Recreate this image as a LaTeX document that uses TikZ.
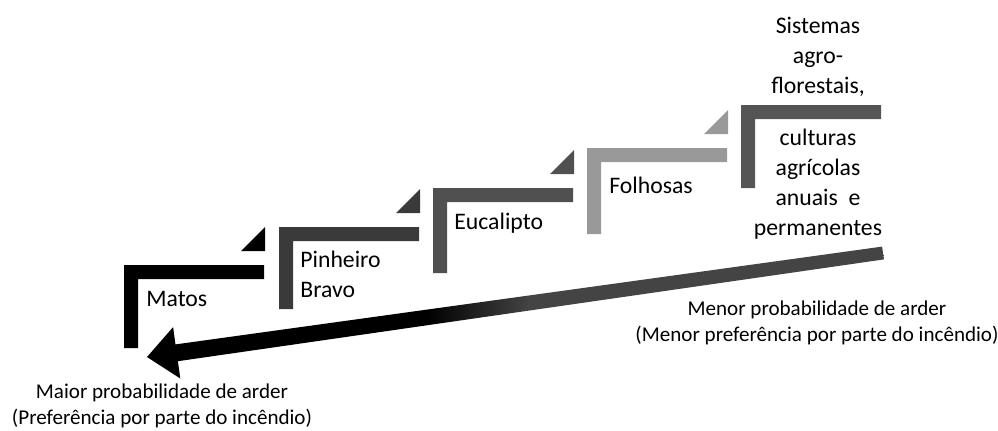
\documentclass[tikz,border=0pt]{standalone}
\usepackage{fontspec}
\setmainfont{Carlito}
\usetikzlibrary{calc}

\definecolor{arrowColour}{HTML}{444444}
\pgfdeclarehorizontalshading{arrowShading}{100bp}{color(0bp)=(black); color(44bp)=(black); color(51bp)=(arrowColour); color(100bp)=(arrowColour)}

\tikzset{
    stepLabel/.style={font=\fontsize{13.5}{17}\selectfont, inner sep=0pt},
    noteLabel/.style={font=\fontsize{12}{15}\selectfont, inner sep=0pt, align=center}
}

\begin{document}
\begin{tikzpicture}[x=0.02cm, y=-0.02cm]
    \useasboundingbox (0,0) rectangle (998,430);

    % Define bar thickness
    \def\barWidth{14}

    \definecolor{pinheiroColour}{HTML}{3A3A3A}
    \definecolor{eucaliptoColour}{HTML}{505050}
    \definecolor{folhosasColour}{HTML}{999999}
    \definecolor{sistemasColour}{HTML}{555555}

    % Draw the steps (left x / top y / bottom y / colour)
    \foreach \x/\y/\b/\col in {124/265/348/black, 279/227/309/pinheiroColour, 433/188/273/eucaliptoColour, 587/148/234/folhosasColour, 741/105/188/sistemasColour}
        \fill[\col] (\x,\b) -- (\x,\y) -- (\x+140,\y) -- (\x+140,\y+\barWidth)
            -- (\x+\barWidth,\y+\barWidth) -- (\x+\barWidth,\b) -- cycle;

    % Draw the small triangles
    \foreach \x/\y/\col in {124/265/black, 279/227/pinheiroColour, 433/188/eucaliptoColour, 587/148/folhosasColour}
        \fill[\col] (\x+141,\y-14) -- (\x+141,\y-38) -- (\x+117,\y-14) -- cycle;

    % Label the steps
    \node[stepLabel, anchor=west] (matos) at (146,299) {Matos};
    \node[stepLabel, anchor=west, align=left] (pinheiro) at (300,274) {Pinheiro\\Bravo};
    \node[stepLabel, anchor=west] (eucalipto) at (454,223) {Eucalipto};
    \node[stepLabel, anchor=west] (folhosas) at (609,185) {Folhosas};
    \node[stepLabel, align=center] (sistemas) at (818,57) {Sistemas\\agro-\\florestais,};
    \node[stepLabel, align=center] (culturas) at (818,184) {culturas\\agrícolas\\anuais~ e\\permanentes};

    % Define the ends of the arrow
    \coordinate (highEnd) at (883,253);
    \coordinate (lowTip) at (147,357);

    % Draw the tapered arrow
    \shade[shading=arrowShading] ($(highEnd)+(-0.9,-6.4)$) -- ($(lowTip)+(28.5,-12.6)$)
        -- ($(lowTip)+(26.1,-29.9)$) -- (lowTip) -- ($(lowTip)+(33.3,21.5)$)
        -- ($(lowTip)+(30.9,4.2)$) -- ($(highEnd)+(0.9,6.4)$) -- cycle;

    % Label the ends
    \node[noteLabel] (maior) at (162,406) {Maior probabilidade de arder\\(Preferência por parte do incêndio)};
    \node[noteLabel] (menor) at (817,323) {Menor probabilidade de arder\\(Menor preferência por parte do incêndio)};

\end{tikzpicture}
\end{document}
